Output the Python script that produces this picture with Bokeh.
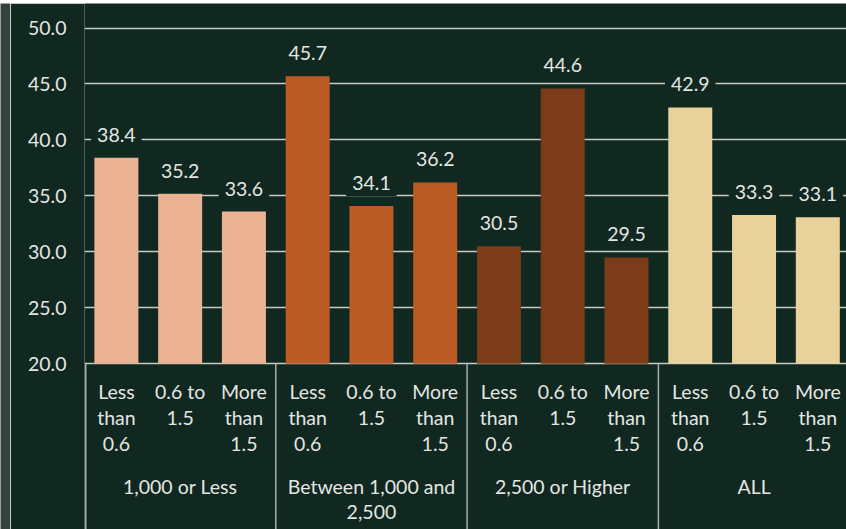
import numpy as np
from bokeh.plotting import figure
from bokeh.models import Range1d, ColumnDataSource, FixedTicker, PrintfTickFormatter
from bokeh.layouts import row, column
from bokeh.core.properties import value
from bokeh.embed import file_html
from bokeh.resources import INLINE

# Population groups (outer categories) and ratio bands (inner categories)
groups = ["1,000 or Less", "Between 1,000 and\n2,500", "2,500 or Higher", "ALL"]
bands = ["Less\nthan\n0.6", "0.6 to\n1.5", "More\nthan\n1.5"]

values_small = [38.4, 35.2, 33.6]
values_mid = [45.7, 34.1, 36.2]
values_large = [30.5, 44.6, 29.5]
values_all = [42.9, 33.3, 33.1]

group_colors = ["#ECB294", "#BA5B25", "#7D3C19", "#E8D29C"]
y_ticks = [20, 25, 30, 35, 40, 45, 50]

BG = "#10281F"
STONE = "#34433E"
TEXT = "#E4E6E4"
FONT = value("Lato")
FS = "19.5px"
BASE = 20

series = [values_small, values_mid, values_large, values_all]
tops = [v for s in series for v in s]
n = len(tops)
xs = np.arange(n) + 0.5
colors = [group_colors[g] for g in range(len(groups)) for _ in bands]

bars = ColumnDataSource(dict(x=xs, top=tops, color=colors,
                             label=[f"{v:.1f}" for v in tops]))

p = figure(width=836, height=526,
           x_range=Range1d(0, 11.95), y_range=Range1d(5.2, 52.19),
           output_backend="svg", toolbar_location=None,
           min_border_left=74, min_border_right=0,
           min_border_top=0, min_border_bottom=0)
p.background_fill_color = BG
p.border_fill_color = BG
p.outline_line_color = None

p.xaxis.visible = False
p.xgrid.visible = False

p.yaxis.ticker = FixedTicker(ticks=y_ticks)
p.yaxis.formatter = PrintfTickFormatter(format="%.1f")
p.yaxis.axis_line_color = None
p.yaxis.major_tick_line_color = None
p.yaxis.minor_tick_line_color = None
p.yaxis.major_tick_out = 0
p.yaxis.major_label_standoff = 18
p.yaxis.major_label_text_font = "Lato"
p.yaxis.major_label_text_font_size = FS
p.yaxis.major_label_text_color = TEXT

p.ygrid.ticker = FixedTicker(ticks=y_ticks)
p.ygrid.grid_line_color = "#C8CAC8"
p.ygrid.grid_line_width = 1.6

p.vbar(x="x", top="top", bottom=BASE, width=0.69, source=bars,
       fill_color="color", line_color=None)

# value labels, masking the gridlines behind them
p.text(x="x", y="top", text="label", source=bars, y_offset=-23,
       text_align="center", text_baseline="middle",
       text_font=FONT, text_font_size=FS, text_color=TEXT,
       background_fill_color=BG, padding=6)

# inner category labels, one glyph row per text line
lx, ly, lt, lo = [], [], [], []
for i in range(n):
    for j, line in enumerate(bands[i % len(bands)].split("\n")):
        lx.append(xs[i]); ly.append(BASE); lt.append(line); lo.append(27.2 + 26.6 * j)
p.text(x=lx, y=ly, text=lt, y_offset=lo, text_align="center",
       text_baseline="middle", text_font=FONT, text_font_size=FS,
       text_color=TEXT)

# outer group labels
gx, gy, gt, go = [], [], [], []
for g, name in enumerate(groups):
    for j, line in enumerate(name.split("\n")):
        gx.append(3 * g + 1.5); gy.append(BASE); gt.append(line); go.append(122.2 + 26.3 * j)
p.text(x=gx, y=gy, text=gt, y_offset=go, text_align="center",
       text_baseline="middle", text_font=FONT, text_font_size=FS,
       text_color=TEXT)

# group separators below the baseline
sep = [0.02, 3, 6, 9]
p.segment(x0=sep, y0=[BASE] * 4, x1=sep, y1=[5.2] * 4,
          line_color="#A9ADAA", line_width=1.5)


def strip(w, h):
    s = figure(width=w, height=h, output_backend="svg", toolbar_location=None,
               min_border=0, x_range=Range1d(0, 1), y_range=Range1d(0, 1))
    s.axis.visible = False
    s.grid.visible = False
    s.outline_line_color = None
    s.background_fill_color = STONE
    s.border_fill_color = STONE
    return s


layout = column(strip(846, 3), row(strip(10, 526), p, spacing=0), spacing=0)

open("out.html", "w").write(file_html(layout, INLINE))
